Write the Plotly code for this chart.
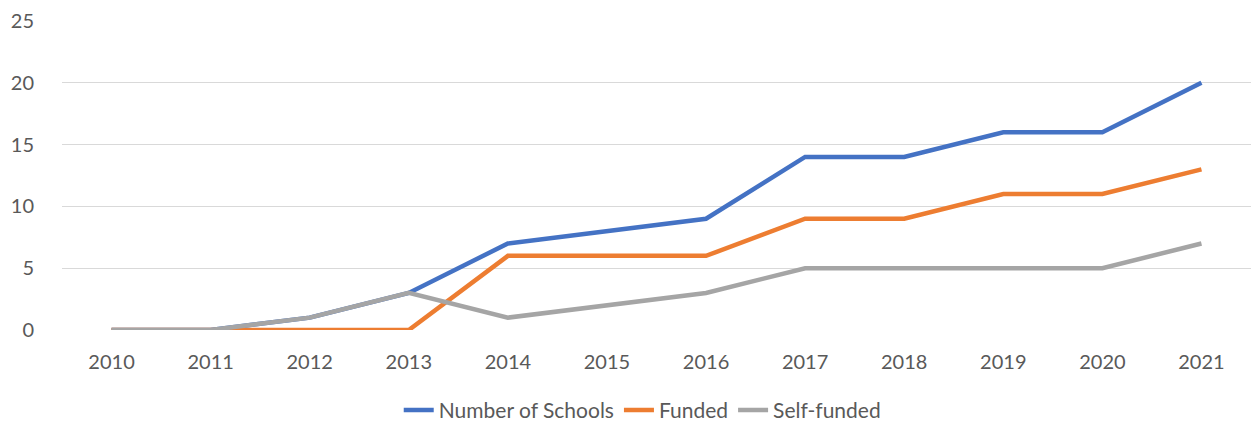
import plotly.graph_objects as go

years = ["2010", "2011", "2012", "2013", "2014", "2015", "2016", "2017", "2018", "2019", "2020", "2021"]
schools = [0, 0, 1, 3, 7, 8, 9, 14, 14, 16, 16, 20]
funded = [0, 0, 0, 0, 6, 6, 6, 9, 9, 11, 11, 13]
self_funded = [0, 0, 1, 3, 1, 2, 3, 5, 5, 5, 5, 7]

names = ["Number of Schools", "Funded", "Self-funded"]
colors = ["#4472C4", "#ED7D31", "#A5A5A5"]

fig = go.Figure()
for name, vals, col in zip(names, [schools, funded, self_funded], colors):
    fig.add_trace(go.Scatter(x=years, y=vals, mode="lines", name=name,
                             line=dict(color=col, width=4.5)))

font = dict(family="Lato, Carlito, sans-serif", size=20, color="#595959")
legfont = dict(family="Lato, Carlito, sans-serif", size=21, color="#595959")
fig.update_layout(
    width=1255, height=424,
    margin=dict(l=62, r=4, t=21, b=94, autoexpand=False),
    plot_bgcolor="white", paper_bgcolor="white",
    font=font,
    showlegend=True,
    legend=dict(orientation="h", x=0.488, y=-0.26, xanchor="center",
                yanchor="middle", font=legfont, tracegroupgap=0,
                bgcolor="rgba(0,0,0,0)"),
    xaxis=dict(type="category", range=[-0.5, 11.5], showgrid=False,
               showline=False, zeroline=False, ticks="", ticklabelstandoff=18,
               tickfont=font),
    yaxis=dict(range=[0, 25], dtick=5, showgrid=True, gridcolor="#D9D9D9",
               gridwidth=1.3, zeroline=False, showline=False, ticks="",
               ticklabelstandoff=27, tickfont=font),
)
fig.write_html("out.html", config={"displayModeBar": False},
               post_script="document.body.style.margin='0';")
